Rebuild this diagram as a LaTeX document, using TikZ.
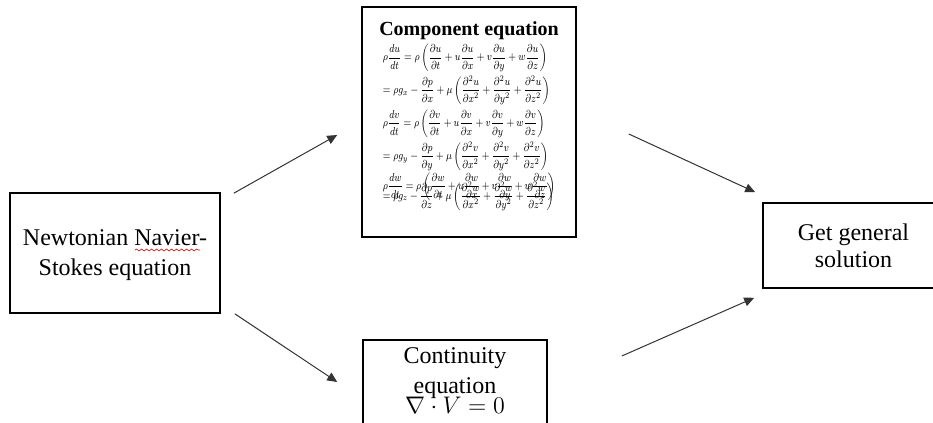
\documentclass[tikz,border=0pt]{standalone}
\usepackage{amsmath,amssymb}
\usepackage{fontspec}
\setmainfont{Liberation Serif}
\usetikzlibrary{arrows.meta,positioning,calc,decorations.pathmorphing}
\newcommand{\pdiff}[2]{\dfrac{\partial #1}{\partial #2}}
\newcommand{\eqfont}{\fontsize{8}{22.9}\selectfont\setlength{\lineskiplimit}{-30pt}}
\tikzset{
  box/.style={rectangle, draw, line width=0.8pt, align=center, inner sep=0pt, font=\fontsize{12}{14}\selectfont},
  eqtext/.style={align=left, inner sep=0pt, xscale=0.58, yscale=0.72, transform shape, font=\eqfont},
  arrow/.style={-{Triangle[length=5pt,width=4.5pt]}, line width=0.5pt, black!80},
  squiggle/.style={red!80!black, line width=0.3pt, decorate, decoration={snake, amplitude=0.5pt, segment length=2.5pt}},
}

\begin{document}
\begin{tikzpicture}[x=0.5pt, y=-0.5pt]
  \clip (0,0) rectangle (933,423);

  % Boxes
  \node[box, minimum width=105pt, minimum height=60pt, text depth=0pt, font=\fontsize{12}{15}\selectfont] (ns) at (115,253) {Newtonian Navier-\\Stokes equation};
  \node[box, minimum width=107pt, minimum height=115pt] (comp) at (469,122) {};
  \node[box, minimum width=92pt, minimum height=43pt, text depth=2.5pt, font=\fontsize{12}{15}\selectfont] (cont) at (455,383) {
    Continuity\\equation\\[-5pt]$\nabla\cdot V=0$
  };
  \node[box, minimum width=90.5pt, minimum height=42.5pt, text depth=0pt, font=\fontsize{12}{13.5}\selectfont] (gs) at (853.5,245.5) {Get general\\solution};

  % Component equations
  \node[font=\bfseries\fontsize{10}{12}\selectfont, inner sep=0pt, anchor=base] (comptitle) at (469,35) {Component equation};
  \node[eqtext, below=2pt of comptitle] (compeq) {
    $\rho\dfrac{du}{dt}=\rho\left(\pdiff{u}{t}+u\pdiff{u}{x}+v\pdiff{u}{y}+w\pdiff{u}{z}\right)$\\
    $=\rho g_x-\pdiff{p}{x}+\mu\left(\pdiff{^2u}{x^2}+\pdiff{^2u}{y^2}+\pdiff{^2u}{z^2}\right)$\\
    $\rho\dfrac{dv}{dt}=\rho\left(\pdiff{v}{t}+u\pdiff{v}{x}+v\pdiff{v}{y}+w\pdiff{v}{z}\right)$\\
    $=\rho g_y-\pdiff{p}{y}+\mu\left(\pdiff{^2v}{x^2}+\pdiff{^2v}{y^2}+\pdiff{^2v}{z^2}\right)$\\[-2.1pt]
    $\rho\dfrac{dw}{dt}=\rho\left(\pdiff{w}{t}+u\pdiff{w}{x}+v\pdiff{w}{y}+w\pdiff{w}{z}\right)$\\[-16pt]
    $=\rho g_z-\pdiff{p}{z}+\mu\left(\pdiff{^2w}{x^2}+\pdiff{^2w}{y^2}+\pdiff{^2w}{z^2}\right)$
  };

  % spell-check mark
  \draw[squiggle] (135,250) -- (200,250);

  % Arrow ends
  \coordinate (a1s) at ($(ns.north east)+(13,1)$);
  \coordinate (a1e) at ($(comp.west)+(-24,13)$);
  \coordinate (a2s) at ($(ns.south east)+(14,0)$);
  \coordinate (a2e) at ($(cont.west)+(-25,-1)$);
  \coordinate (a3s) at ($(comp.east)+(52,12)$);
  \coordinate (a3e) at ($(gs.north west)+(-7,-10)$);
  \coordinate (a4s) at ($(cont.east)+(74,-27)$);
  \coordinate (a4e) at ($(gs.south west)+(-8,9)$);

  % Arrows
  \draw[arrow] (a1s) -- (a1e);
  \draw[arrow] (a2s) -- (a2e);
  \draw[arrow] (a3s) -- (a3e);
  \draw[arrow] (a4s) -- (a4e);

\end{tikzpicture}
\end{document}
